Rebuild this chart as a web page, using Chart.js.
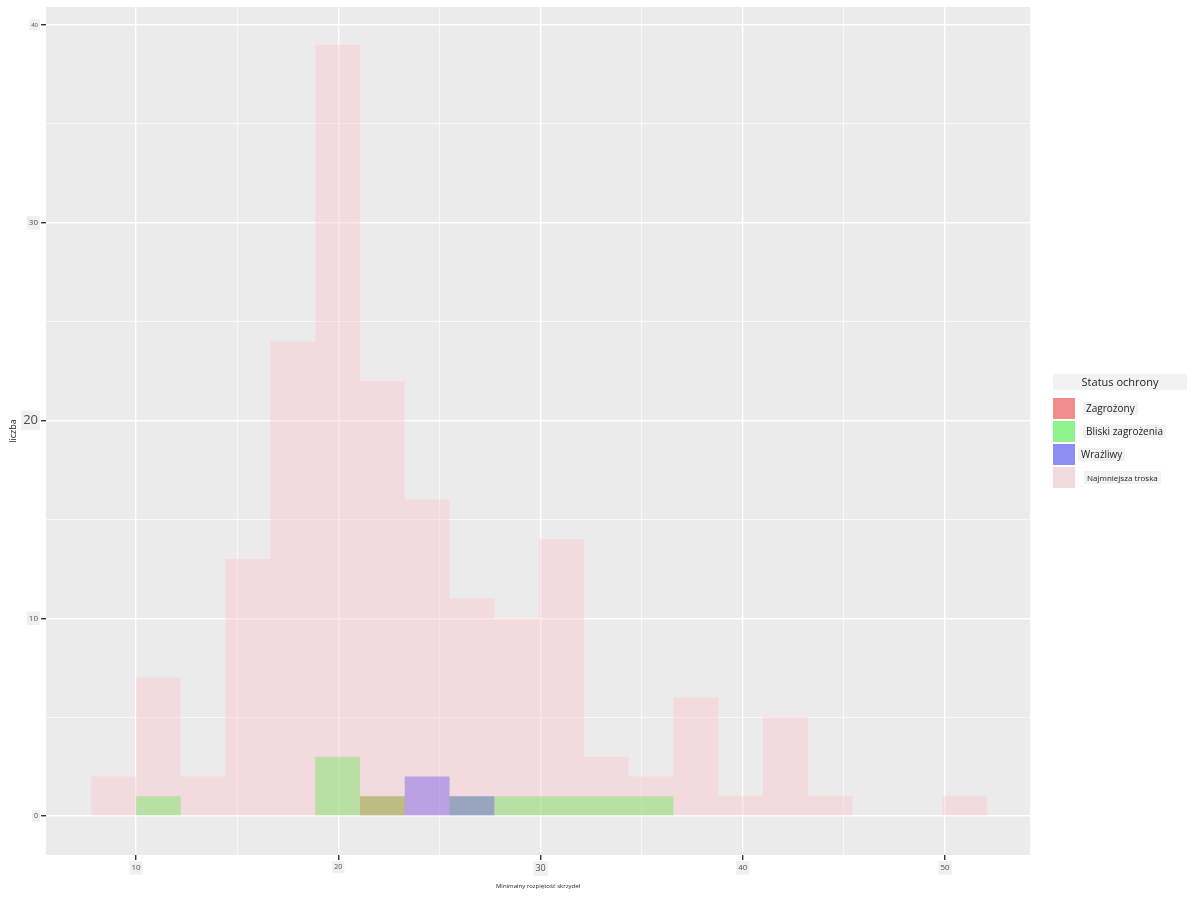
<html lang="pl">
<head>
    <meta charset="UTF-8">
    <title>Status ochrony - histogram</title>
    <script src="https://cdn.jsdelivr.net/npm/chart.js"></script>
    <style>
        body { margin: 0; background: #fff; font-family: "Open Sans", sans-serif; }
        #wrap { position: relative; width: 1200px; height: 900px; }
        #legend { position: absolute; left: 1053px; top: 374px; width: 140px; font-size: 10px; color: #222; }
        #legend .title { background: #f2f2f2; width: 134px; text-align: center; font-size: 11px; line-height: 16px; margin-bottom: 7px; }
        #legend .row { display: flex; align-items: center; height: 23px; }
        #legend .key { width: 22px; height: 21px; }
        #legend .lab { background: #f2f2f2; padding: 0 3px; line-height: 13px; }
    </style>
</head>
<body>
    <div id="wrap">
        <canvas id="histChart" width="1200" height="900"></canvas>
        <div id="legend"></div>
    </div>

    <script>
        // bin centres (20 bins) and counts per conservation status
        const binCenters = [8.89, 11.105, 13.319, 15.534, 17.749, 19.964, 22.178, 24.393, 26.608, 28.822,
            31.037, 33.252, 35.466, 37.681, 39.896, 42.110, 44.325, 46.540, 48.755, 50.969];
        const statusNames = ['Zagrożony', 'Bliski zagrożenia', 'Wrażliwy', 'Najmniejsza troska'];
        const zagrozony = [0, 0, 0, 0, 0, 0, 1, 0, 0, 0, 0, 0, 0, 0, 0, 0, 0, 0, 0, 0];
        const bliski = [0, 1, 0, 0, 0, 3, 1, 0, 1, 1, 1, 1, 1, 0, 0, 0, 0, 0, 0, 0];
        const wrazliwy = [0, 0, 0, 0, 0, 0, 0, 2, 1, 0, 0, 0, 0, 0, 0, 0, 0, 0, 0, 0];
        const najmniejsza = [2, 7, 2, 13, 24, 39, 22, 16, 11, 10, 14, 3, 2, 6, 1, 5, 1, 0, 0, 1];
        const xTicks = [10, 20, 30, 40, 50];
        const yTicks = [0, 10, 20, 30, 40];

        const fills = ['rgba(255,0,0,0.4)', 'rgba(0,255,0,0.4)', 'rgba(0,0,255,0.4)', 'rgba(255,192,203,0.4)'];
        const keyFills = ['#f38d8d', '#8df38d', '#8d8df3', '#f3dade'];
        const labelGap = [8, 8, 3, 9];
        const series = [zagrozony, bliski, wrazliwy, najmniejsza];

        const plotBg = {
            id: 'plotBg',
            beforeDraw(chart) {
                const a = chart.chartArea;
                chart.ctx.save();
                chart.ctx.fillStyle = '#ebebeb';
                chart.ctx.fillRect(a.left, a.top, a.right - a.left, a.bottom - a.top);
                chart.ctx.restore();
            }
        };

        // tick value from a scriptable context (undefined outside tick contexts)
        const tv = c => (c && c.tick) ? c.tick.value : null;
        const isMajor = (v, list) => list.includes(v);

        const xFont = { 10: 8, 20: 7, 30: 9, 40: 8, 50: 8 };
        const yFont = { 0: 7, 10: 8, 20: 13, 30: 8, 40: 6 };

        new Chart(document.getElementById('histChart'), {
            type: 'bar',
            data: {
                datasets: series.map((s, i) => ({
                    label: statusNames[i],
                    // empty bins are left out so nothing is drawn on the baseline
                    data: s.map((v, j) => ({ x: binCenters[j], y: v === 0 ? null : v })),
                    backgroundColor: fills[i],
                    borderWidth: 0,
                    inflateAmount: 0,
                    grouped: false,
                    order: 4 - i,
                    barPercentage: 1,
                    categoryPercentage: 1
                }))
            },
            options: {
                responsive: false,
                animation: false,
                layout: { padding: { top: 7, right: 170, left: 0, bottom: 10 } },
                plugins: {
                    legend: { display: false },
                    tooltip: { enabled: false }
                },
                scales: {
                    x: {
                        type: 'linear',
                        offset: false,
                        min: 5.55,
                        max: 54.2,
                        afterFit(scale) { scale.height = 35; },
                        border: { display: false },
                        grid: {
                            offset: false,
                            color: '#ffffff',
                            lineWidth: c => isMajor(tv(c), xTicks) ? 1.4 : 0.7,
                            tickColor: c => isMajor(tv(c), xTicks) ? '#333333' : 'rgba(0,0,0,0)',
                            tickLength: 5
                        },
                        ticks: {
                            stepSize: 5,
                            includeBounds: false,
                            maxRotation: 0,
                            autoSkip: false,
                            padding: 3,
                            color: '#4d4d4d',
                            font: c => ({ family: 'Open Sans', size: xFont[tv(c)] || 8 }),
                            callback: v => isMajor(v, xTicks) ? String(v) : '',
                            showLabelBackdrop: c => isMajor(tv(c), xTicks),
                            backdropColor: '#f0f0f0',
                            backdropPadding: 2
                        },
                        title: {
                            display: true,
                            text: 'Minimalny rozpiętość skrzydeł',
                            color: '#222',
                            font: { family: 'Open Sans', size: 6 },
                            padding: { top: 2, bottom: 0 }
                        }
                    },
                    y: {
                        min: -1.97,
                        max: 40.91,
                        afterFit(scale) { scale.width = 46; },
                        border: { display: false },
                        grid: {
                            color: '#ffffff',
                            lineWidth: c => isMajor(tv(c), yTicks) ? 1.4 : 0.7,
                            tickColor: c => isMajor(tv(c), yTicks) ? '#333333' : 'rgba(0,0,0,0)',
                            tickLength: 5
                        },
                        ticks: {
                            stepSize: 5,
                            includeBounds: false,
                            autoSkip: false,
                            padding: 3,
                            color: '#4d4d4d',
                            font: c => ({ family: 'Open Sans', size: yFont[tv(c)] || 8 }),
                            callback: v => isMajor(v, yTicks) ? String(v) : '',
                            showLabelBackdrop: c => isMajor(tv(c), yTicks),
                            backdropColor: '#f0f0f0',
                            backdropPadding: 2
                        },
                        title: {
                            display: true,
                            text: 'liczba',
                            color: '#222',
                            font: { family: 'Open Sans', size: 9 },
                            padding: { top: 8, bottom: 0 }
                        }
                    }
                }
            },
            plugins: [plotBg]
        });

        // legend in ggplot style
        const legend = document.getElementById('legend');
        let html = '<div class="title">Status ochrony</div>';
        statusNames.forEach((name, i) => {
            html += '<div class="row"><div class="key" style="background:' + keyFills[i] + '"></div>' +
                '<span class="lab" style="margin-left:' + labelGap[i] + 'px' + (i === 3 ? ';font-size:8px' : '') + '">' +
                name + '</span></div>';
        });
        legend.innerHTML = html;
    </script>
</body>
</html>
